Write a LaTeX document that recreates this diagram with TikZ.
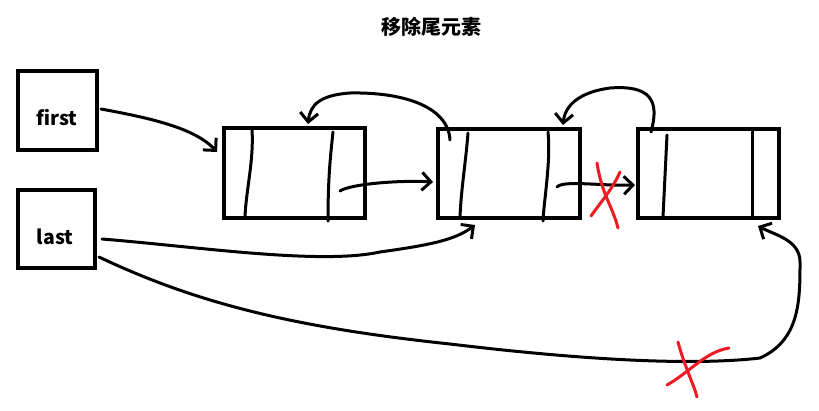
\documentclass[tikz,border=0pt]{standalone}
\usepackage{fontspec}
\newfontfamily\cjk{Noto Sans CJK SC}
\usetikzlibrary{arrows.meta}
\begin{document}
\begin{tikzpicture}[x=1pt,y=-1pt,
  box/.style={draw=black, line width=4pt, inner sep=0pt},
  txt/.style={font=\cjk\bfseries\fontsize{19.5}{21}\selectfont, inner sep=0pt},
  pen/.style={line width=3pt, line cap=round, line join=round},
  redpen/.style={pen, draw={rgb,255:red,237;green,28;blue,36}},
  arr/.style={pen, -{Straight Barb[length=9pt,width=18pt,line width=3pt]}}
]
\useasboundingbox[fill=white] (0,0) rectangle (819,410);

\node[font=\cjk\bfseries\fontsize{20}{22}\selectfont] (title) at (431,27) {移除尾元素};

\node[box, minimum width=79pt, minimum height=79pt] (first) at (57.5,110.5) {};
\node[txt] (firsttext) at (57,118) {first};
\node[box, minimum width=77pt, minimum height=78pt] (last) at (56.5,229) {};
\node[txt] (lasttext) at (55,237) {last};

\node[box, minimum width=141pt, minimum height=90pt] (n1) at (294.5,173) {};
\node[box, minimum width=142pt, minimum height=89pt] (n2) at (509,173.5) {};
\node[box, minimum width=141pt, minimum height=89pt] (n3) at (708.5,173.5) {};

% cell dividers
\draw[pen] (252,130) .. controls (254,160) and (246,190) .. (245,217);
\draw[pen] (333,132) .. controls (330,160) and (328,180) .. (328,221);
\draw[pen] (468,133) .. controls (466,160) and (461,190) .. (460,217);
\draw[pen] (548,132) .. controls (551,160) and (544,200) .. (543,221);
\draw[pen] (667,135) -- (663,217);
\draw[line width=3pt] (752,128) -- (752,219);

% coordinates
\coordinate (a1s) at (101,109);
\coordinate (a1e) at (217,152);
\coordinate (a2s) at (340,191);
\coordinate (a2e) at (433,182);
\coordinate (a3s) at (557,187);
\coordinate (a3e) at (635,185);
\coordinate (b1s) at (450,140);
\coordinate (b1e) at (308,124);
\coordinate (b2s) at (651,132);
\coordinate (b2e) at (563,125);
\coordinate (c1s) at (102,239);
\coordinate (c1e) at (475,225);
\coordinate (c2s) at (99,257);
\coordinate (c2e) at (758,226);

% first -> n1
\draw[arr] (a1s) .. controls (150,118) and (195,128) .. (a1e);
% n1 -> n2
\draw[arr] (a2s) .. controls (350,184) and (400,180) .. (a2e);
% n2 -> n3
\draw[arr] (a3s) .. controls (563,180) and (600,186) .. (a3e);
% n2 -> n1 (prev)
\draw[arr] (b1s) .. controls (448,105) and (400,92) .. (350,93)
  .. controls (320,95) and (310,105) .. (b1e);
% n3 -> n2 (prev)
\draw[arr] (b2s) .. controls (660,100) and (650,85) .. (610,88)
  .. controls (580,92) and (565,105) .. (b2e);
% last -> n2
\draw[arr] (c1s) .. controls (200,247) and (320,265) .. (380,252)
  .. controls (430,245) and (455,240) .. (c1e);
% last -> n3
\draw[arr] (c2s) .. controls (200,305) and (300,328) .. (450,344)
  .. controls (600,362) and (700,365) .. (760,358)
  .. controls (800,340) and (800,300) .. (800,262)
  .. controls (800,240) and (775,235) .. (c2e);

% red crosses
\draw[redpen] (597,163) .. controls (602,195) and (612,205) .. (618,228);
\draw[redpen] (620,172) .. controls (612,190) and (600,203) .. (591,216);
\draw[redpen] (678,342) .. controls (684,365) and (694,385) .. (697,397);
\draw[redpen] (729,348) .. controls (705,352) and (690,372) .. (667,385);
\end{tikzpicture}
\end{document}
